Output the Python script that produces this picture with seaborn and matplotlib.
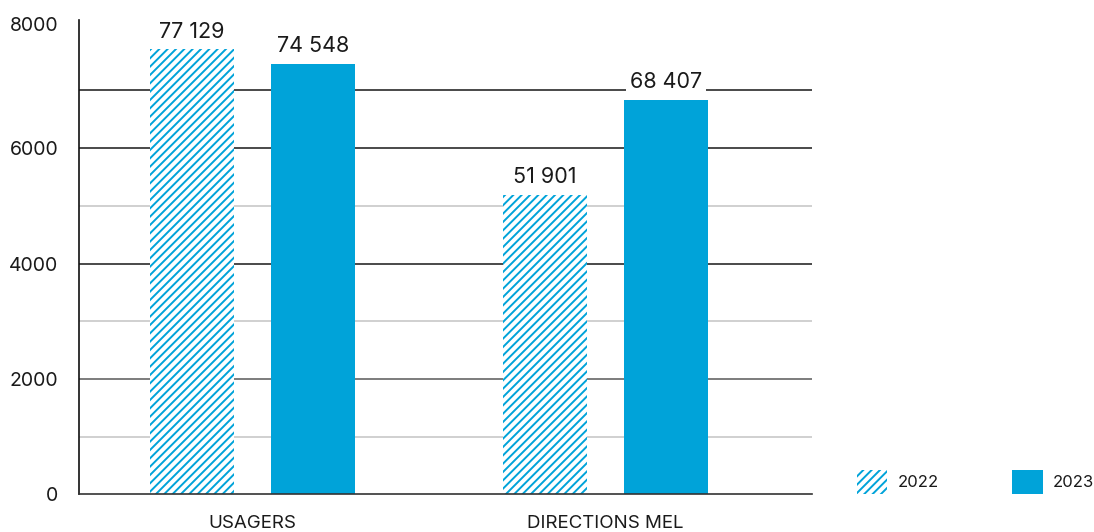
import matplotlib
matplotlib.use("Agg")
import matplotlib.pyplot as plt
import matplotlib.transforms as mtransforms
import seaborn as sns
import pandas as pd

categories = ["USAGERS", "DIRECTIONS MEL"]
years = ["2022", "2023"]
values_2022 = [77129, 51901]
values_2023 = [74548, 68407]
value_labels_2022 = ["77 129", "51 901"]
value_labels_2023 = ["74 548", "68 407"]
ytick_values = [0, 20000, 40000, 60000, 80000]
ytick_labels = ["0", "2000", "4000", "6000", "8000"]
grid_dark = [40000, 60000, 70000]
grid_mid = [20000]
grid_light = [10000, 30000, 50000]

BLUE = "#00A3D9"
TEXT = "#1a1a1a"

sns.set_theme(style="white")
plt.rcParams["font.family"] = ["Inter", "DejaVu Sans"]
plt.rcParams["hatch.linewidth"] = 1.4

df = pd.DataFrame({
    "cat": categories * 2,
    "year": [years[0]] * 2 + [years[1]] * 2,
    "val": values_2022 + values_2023,
})

fig = plt.figure(figsize=(10.94, 5.32), dpi=100)
ax = fig.add_axes([0.0722, 0.0705, 0.6700, 0.8920])

for g in grid_light:
    ax.axhline(g, color="#c8c8c8", lw=1.2, zorder=0)
for g in grid_mid:
    ax.axhline(g, color="#666666", lw=1.2, zorder=0)
for g in grid_dark:
    ax.axhline(g, color="#2a2a2a", lw=1.2, zorder=0)

sns.barplot(data=df, x="cat", y="val", hue="year", hue_order=years,
            palette=[BLUE, BLUE], width=0.685, gap=0.305, ax=ax,
            saturation=1, errorbar=None, zorder=2)

c2022, c2023 = ax.containers[0], ax.containers[1]
for p in c2022:
    p.set_facecolor("white")
    p.set_edgecolor(BLUE)
    p.set_hatch("////")
    p.set_linewidth(0)
for p in c2023:
    p.set_edgecolor("none")
    p.set_linewidth(0)

box = dict(facecolor="white", edgecolor="none", pad=3)
for cont, labs in ((c2022, value_labels_2022), (c2023, value_labels_2023)):
    texts = ax.bar_label(cont, labels=labs, padding=5.5, fontsize=15.5, color=TEXT)
    for t in texts:
        t.set_bbox(box)
        t.set_zorder(3)

ax.set_xlim(-0.491, 1.585)
ax.set_ylim(0, 82200)
ax.set_yticks(ytick_values)
ax.set_yticklabels(ytick_labels, fontsize=14, color=TEXT)
ax.tick_params(axis="y", length=0, pad=15)
ax.tick_params(axis="x", length=0, pad=15, labelsize=13.5, labelcolor=TEXT)
lbl = ax.get_yticklabels()[-1]
lbl.set_transform(lbl.get_transform() + mtransforms.ScaledTranslation(0, 9 / 100, fig.dpi_scale_trans))
ax.set_xlabel("")
ax.set_ylabel("")

for s in ["top", "right"]:
    ax.spines[s].set_visible(False)
ax.spines["left"].set_color("#111111")
ax.spines["bottom"].set_color("#333333")
ax.spines["left"].set_linewidth(1.2)
ax.spines["bottom"].set_linewidth(1.2)

leg = ax.get_legend()
if leg is not None:
    leg.remove()
fig.legend([c2022, c2023], years, loc="center left",
           bbox_to_anchor=(0.783, 0.094), ncol=2, frameon=False,
           fontsize=12, handlelength=1.85, handleheight=1.8,
           handletextpad=0.6, columnspacing=4.4, borderpad=0, borderaxespad=0,
           labelcolor=TEXT)

fig.savefig("out.png", dpi=100)
